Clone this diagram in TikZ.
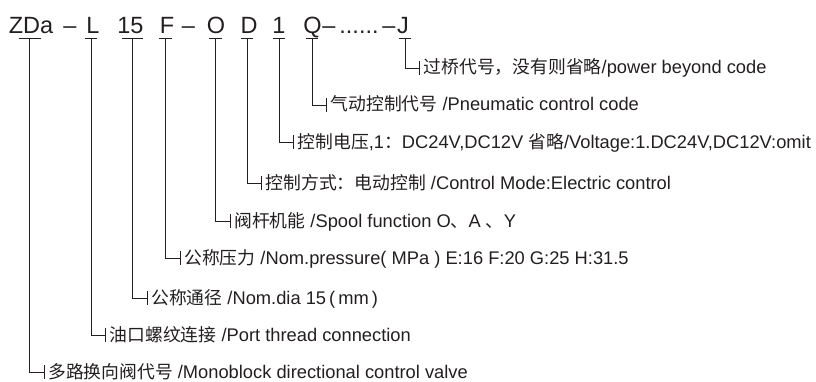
\documentclass[tikz,border=0pt]{standalone}
\usepackage{fontspec}
\setmainfont{Liberation Sans}
\newfontfamily\cjk{Noto Sans CJK SC}
\newcommand\zh[1]{{\cjk\fontsize{17.8}{20}\selectfont #1}}
\definecolor{ink}{HTML}{231F20}
\tikzset{
  hdr/.style={anchor=base, inner sep=0pt, font=\fontsize{23.5}{26}\selectfont, text=ink},
  lab/.style={anchor=base west, inner sep=0pt, font=\fontsize{18.3}{21}\selectfont, text=ink},
  wire/.style={draw=ink, line width=0.85pt},
}
\newcommand\callout[5]{%
  \coordinate (#1-bl) at (#2-#3,342.7);
  \coordinate (#1-br) at (#2+#3,342.7);
  \coordinate (#1-top) at (#2,342.7);
  \coordinate (#1-corner) at (#2,#4);
  \coordinate (#1-tick) at (#2+14.5,#4);
  \coordinate (#1-tu) at (#2+14.5,#4+7);
  \coordinate (#1-td) at (#2+14.5,#4-7);
  \node[lab] (#1-lab) at (#2+18.5,#4-6) {#5};
  \draw[wire] (#1-bl) -- (#1-br);
  \draw[wire] (#1-top) -- (#1-corner) -- (#1-tick);
  \draw[wire] (#1-tu) -- (#1-td);
}
\begin{document}
\begin{tikzpicture}[x=1pt,y=1pt]
\useasboundingbox (0,0) rectangle (816,381);
% header code
\node[hdr] (hZDa) at (31,347.7) {ZDa};
\node[hdr] (hd1) at (70,347.7) {–};
\node[hdr] (hL) at (93,347.7) {L};
\node[hdr] (h15) at (130.5,347.7) {15};
\node[hdr] (hF) at (167,347.7) {F};
\node[hdr] (hd2) at (188.5,347.7) {–};
\node[hdr] (hO) at (216,347.7) {O};
\node[hdr] (hD) at (249,347.7) {D};
\node[hdr] (h1) at (279,347.7) {1};
\node[hdr] (hQ) at (312.5,347.7) {Q};
\node[hdr] (hd3) at (329,347.7) {–};
\node[hdr] (hdots) at (359,347.7) {......};
\node[hdr] (hd4) at (389,347.7) {–};
\node[hdr] (hJ) at (403,347.7) {J};
% callouts
\callout{J}{405}{6}{313}{\zh{过桥代号，没有则省略}/power beyond code}
\callout{Q}{312}{6}{276}{\zh{气动控制代号} /Pneumatic control code}
\callout{V}{279}{6}{239}{\zh{控制电压},1\zh{：}DC24V,DC12V \zh{省略}/Voltage:1.DC24V,DC12V:omit}
\callout{D}{247}{6}{198}{\zh{控制方式：电动控制} /Control Mode:Electric control}
\callout{O}{215.5}{6.5}{160}{\zh{阀杆机能} /Spool function O\zh{、}A \zh{、}Y}
\callout{F}{165.5}{6.5}{123}{\zh{公称压力} /Nom.pressure( MPa ) E:16 F:20 G:25 H:31.5}
\callout{N}{132.5}{10.5}{83}{\zh{公称通径} /Nom.dia 15\,(\,mm\,)}
\callout{L}{91}{6}{46}{\zh{油口螺纹连接} /Port thread connection}
\callout{Z}{29.5}{11}{8.7}{\zh{多路换向阀代号} /Monoblock directional control valve}
\end{tikzpicture}
\end{document}
